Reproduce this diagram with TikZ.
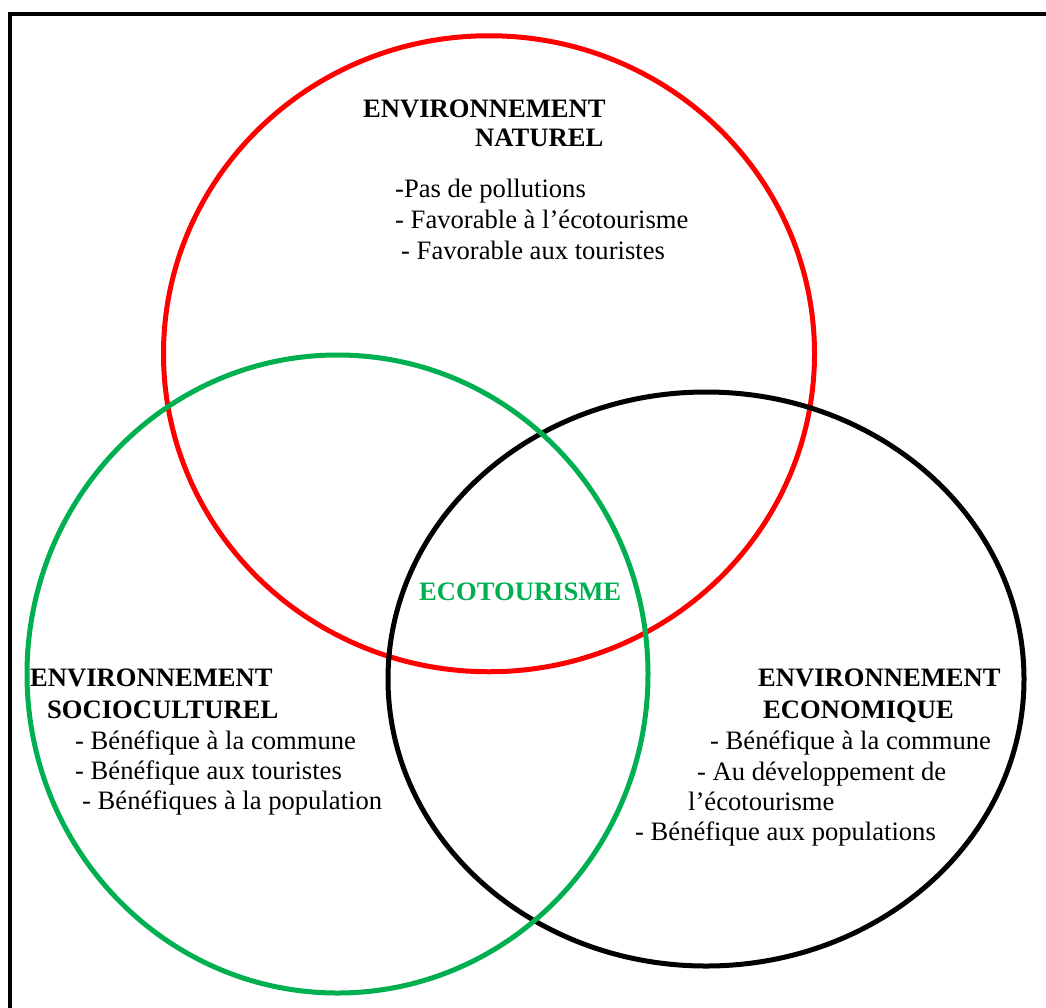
\documentclass[tikz,border=0pt]{standalone}
\usepackage{fontspec}
\setmainfont{Liberation Serif}
\definecolor{wordgreen}{RGB}{0,176,80}
\definecolor{wordred}{RGB}{255,0,0}
\begin{document}
\begin{tikzpicture}[x=1pt,y=-1pt,
  txt/.style={anchor=base west,inner sep=0pt,font=\fontsize{26.6}{30}\selectfont},
  hd/.style={txt,font=\fontsize{26.6}{30}\selectfont\bfseries},
  ring/.style={line width=5pt}]
\useasboundingbox (0,0) rectangle (1046,1007);
% frame
\draw[line width=4pt] (10,1010) -- (10,14) -- (1050,14);
% circles
\draw[ring,wordred] (489,353.75) ellipse [x radius=325.5pt, y radius=318pt];
\draw[ring,black] (706,679) ellipse [x radius=318pt, y radius=287pt];
\draw[ring,wordgreen] (337.5,674) ellipse [x radius=310.5pt, y radius=319pt];
% natural
\node[hd] (n1) at (363,117) {ENVIRONNEMENT};
\node[hd] (n2) at (475,146) {NATUREL};
\node[txt] (n3) at (395,197) {-Pas de pollutions};
\node[txt] (n4) at (395,228) {- Favorable à l’écotourisme};
\node[txt] (n5) at (401,259) {- Favorable aux touristes};
% socioculturel
\node[hd] (s1) at (30,686) {ENVIRONNEMENT};
\node[hd] (s2) at (47,718) {SOCIOCULTUREL};
\node[txt] (s3) at (75,749) {- Bénéfique à la commune};
\node[txt] (s4) at (75,779) {- Bénéfique aux touristes};
\node[txt] (s5) at (82,809) {- Bénéfiques à la population};
% economique
\node[hd] (e1) at (758,686) {ENVIRONNEMENT};
\node[hd] (e2) at (763,718) {ECONOMIQUE};
\node[txt] (e3) at (710,749) {- Bénéfique à la commune};
\node[txt] (e4) at (697,780) {- Au développement de};
\node[txt] (e5) at (688,810) {l’écotourisme};
\node[txt] (e6) at (635,840) {- Bénéfique aux populations};
% centre
\node[hd,text=wordgreen] (c) at (419,600) {ECOTOURISME};
\end{tikzpicture}
\end{document}
